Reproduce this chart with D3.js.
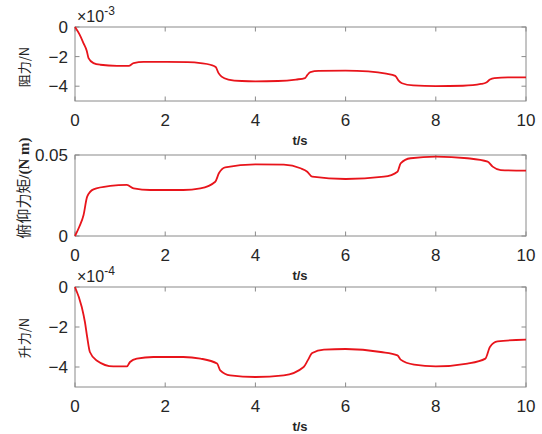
<!DOCTYPE html>
<html>
<head>
<meta charset="utf-8">
<script src="https://cdn.jsdelivr.net/npm/d3@7"></script>
<style>
  body { margin: 0; background: #fff; }
  text { font-family: "Liberation Sans", Arial, sans-serif; }
</style>
</head>
<body>
<svg id="chart" width="542" height="434"></svg>
<script>
// time axis ticks
var xTicks = [0, 2, 4, 6, 8, 10];

// drag (x 1e-3 N)
var dragT = [0, 0.1, 0.19, 0.26, 0.3, 0.41, 0.56, 0.93, 1.19, 1.3, 1.52, 2.04, 2.5, 2.78, 3.0, 3.12, 3.18, 3.25, 3.4, 3.7, 4.0, 4.5, 4.9, 5.1, 5.15, 5.22, 5.4, 6.0, 6.5, 6.9, 7.1, 7.17, 7.25, 7.5, 8.0, 8.6, 9.0, 9.12, 9.2, 9.3, 9.6, 10];
var dragV = [0, -0.5, -1.1, -1.6, -2.1, -2.44, -2.55, -2.62, -2.62, -2.44, -2.36, -2.36, -2.38, -2.44, -2.55, -2.7, -3.1, -3.35, -3.55, -3.65, -3.67, -3.65, -3.55, -3.45, -3.25, -3.05, -2.97, -2.95, -3.0, -3.15, -3.3, -3.6, -3.8, -3.95, -4.0, -3.97, -3.85, -3.75, -3.55, -3.45, -3.4, -3.4];
var dragTicks = [0, -2, -4];

// pitching moment (N m)
var momT = [0, 0.1, 0.19, 0.27, 0.41, 0.78, 1.15, 1.3, 1.67, 2.4, 2.78, 3.11, 3.19, 3.33, 4.0, 4.63, 5.0, 5.15, 5.26, 6.0, 6.85, 7.15, 7.22, 7.44, 8.0, 8.7, 9.15, 9.26, 9.44, 10];
var momV = [0, 0.006, 0.013, 0.0243, 0.0288, 0.0309, 0.0315, 0.0294, 0.0284, 0.0284, 0.0294, 0.0335, 0.0387, 0.0424, 0.0442, 0.044, 0.0418, 0.0397, 0.0366, 0.0352, 0.0366, 0.0397, 0.0449, 0.048, 0.049, 0.048, 0.0459, 0.0428, 0.0407, 0.0403];
var momTicks = [0, 0.05];

// lift (x 1e-4 N)
var liftT = [0, 0.15, 0.22, 0.27, 0.33, 0.48, 0.85, 1.15, 1.22, 1.37, 1.74, 2.4, 2.78, 3.15, 3.22, 3.44, 4.0, 4.63, 5.07, 5.16, 5.26, 5.52, 6.0, 6.78, 7.15, 7.22, 7.52, 8.0, 8.7, 9.1, 9.2, 9.37, 10];
var liftV = [0, -1.0, -1.75, -2.5, -3.25, -3.67, -3.97, -3.97, -3.75, -3.58, -3.5, -3.5, -3.58, -3.83, -4.17, -4.42, -4.5, -4.42, -4.0, -3.67, -3.3, -3.13, -3.1, -3.25, -3.42, -3.63, -3.88, -3.97, -3.83, -3.58, -3.0, -2.72, -2.63];
var liftTicks = [0, -2, -4];

var svg = d3.select("#chart");
var left = 75, right = 526;

var panels = [
  { top: 27, bottom: 101, t: dragT, v: dragV, domain: [-5, 0], ticks: dragTicks, fmt: d3.format("d"), exp: "-3", label: [["阻力/N", false]], ly: 67, fs: 13 },
  { top: 155, bottom: 236, t: momT, v: momV, domain: [0, 0.05], ticks: momTicks, fmt: function (d) { return d === 0 ? "0" : d3.format(".2f")(d); }, exp: null, label: [["俯仰力矩", false], ["/(N m)", true]], ly: 188, fs: 15 },
  { top: 287, bottom: 387, t: liftT, v: liftV, domain: [-5, 0], ticks: liftTicks, fmt: d3.format("d"), exp: "-4", label: [["升力/N", false]], ly: 338, fs: 13 }
];

var x = d3.scaleLinear().domain([0, 10]).range([left, right]);

panels.forEach(function (p) {
  var y = d3.scaleLinear().domain(p.domain).range([p.bottom, p.top]);
  var g = svg.append("g");

  // frame and ticks
  g.append("rect")
    .attr("x", left).attr("y", p.top)
    .attr("width", right - left).attr("height", p.bottom - p.top)
    .attr("fill", "none").attr("stroke", "#8a8a8a").attr("stroke-width", 1);

  var tickLen = 4.5;
  xTicks.forEach(function (t) {
    g.append("line").attr("x1", x(t)).attr("x2", x(t)).attr("y1", p.bottom).attr("y2", p.bottom - tickLen).attr("stroke", "#8a8a8a");
    g.append("line").attr("x1", x(t)).attr("x2", x(t)).attr("y1", p.top).attr("y2", p.top + tickLen).attr("stroke", "#8a8a8a");
    g.append("text").attr("x", x(t)).attr("y", p.bottom + 25)
      .attr("text-anchor", "middle").attr("font-size", "17px").attr("fill", "#262626")
      .text(t);
  });
  p.ticks.forEach(function (v) {
    g.append("line").attr("x1", left).attr("x2", left + tickLen).attr("y1", y(v)).attr("y2", y(v)).attr("stroke", "#8a8a8a");
    g.append("line").attr("x1", right).attr("x2", right - tickLen).attr("y1", y(v)).attr("y2", y(v)).attr("stroke", "#8a8a8a");
    g.append("text").attr("x", left - 7).attr("y", y(v)).attr("dy", "0.36em")
      .attr("text-anchor", "end").attr("font-size", "17px").attr("fill", "#262626")
      .text(p.fmt(v));
  });

  // exponent
  if (p.exp) {
    var e = g.append("text").attr("x", left + 2).attr("y", p.top - 5)
      .attr("font-size", "16px").attr("fill", "#262626");
    e.append("tspan").text("×10");
    e.append("tspan").attr("font-size", "12px").attr("dy", -7).text(p.exp);
  }

  // x label
  g.append("text").attr("x", 300).attr("y", p.bottom + 44)
    .attr("text-anchor", "middle").attr("font-size", "13px").attr("font-weight", "bold").attr("fill", "#262626")
    .text("t/s");

  // y label
  var yl = g.append("text")
    .attr("transform", "translate(29," + p.ly + ") rotate(-90)")
    .attr("text-anchor", "middle").attr("font-size", p.fs + "px").attr("fill", "#262626");
  p.label.forEach(function (part) {
    yl.append("tspan")
      .attr("font-family", part[1] ? "'Liberation Serif', serif" : "'Noto Sans CJK SC', sans-serif")
      .attr("font-weight", part[1] ? "bold" : "normal")
      .text(part[0]);
  });

  // curve
  var pts = p.t.map(function (t, i) { return [t, p.v[i]]; });
  g.append("path").datum(pts)
    .attr("fill", "none").attr("stroke", "#e8141b").attr("stroke-width", 1.8)
    .attr("d", d3.line().x(function (d) { return x(d[0]); }).y(function (d) { return y(d[1]); }).curve(d3.curveMonotoneX));
});
</script>
</body>
</html>
